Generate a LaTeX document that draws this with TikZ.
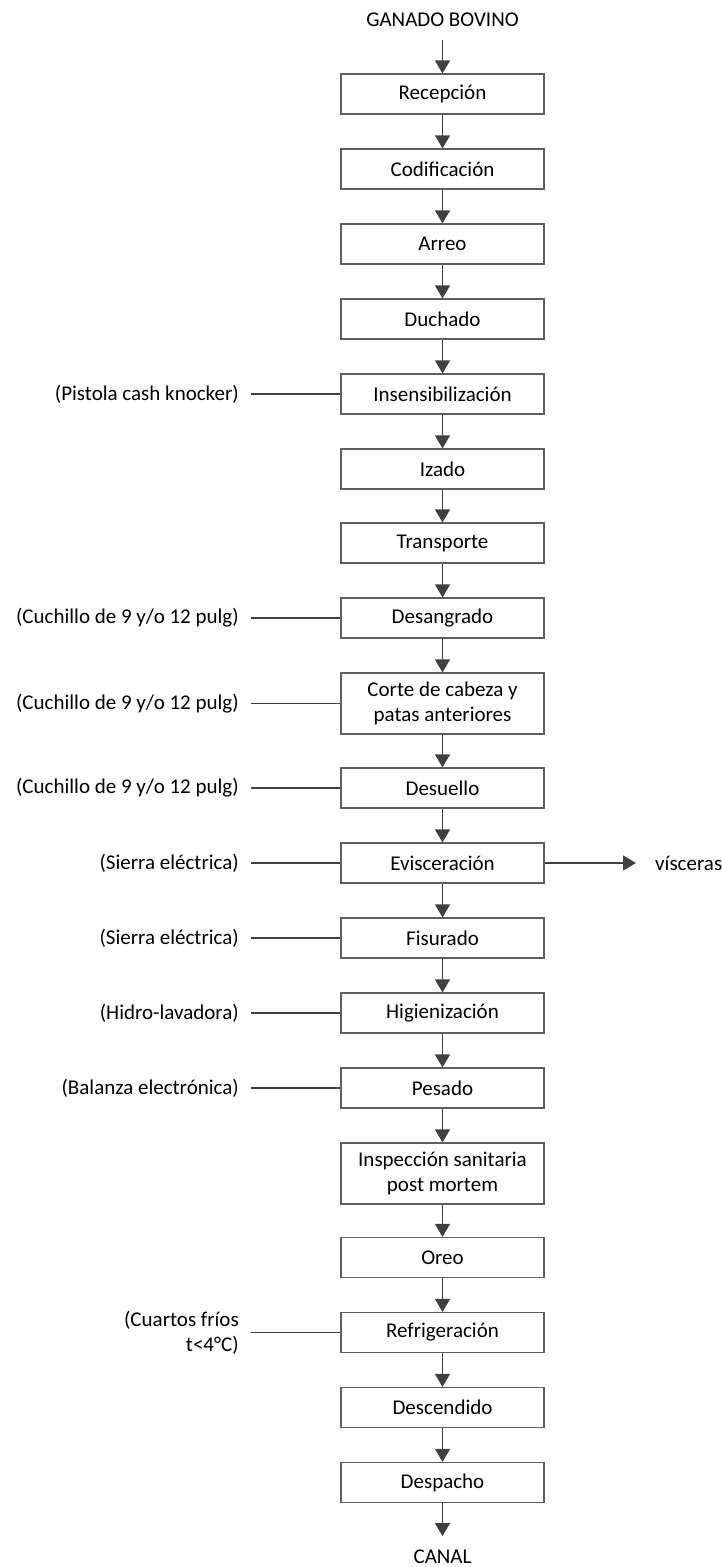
\documentclass[tikz,border=0pt]{standalone}
\usepackage{fontspec}
\setmainfont{Carlito}
\usetikzlibrary{arrows.meta}
\definecolor{linegray}{HTML}{404040}
\definecolor{boxgray}{HTML}{5E5E5E}
\begin{document}
\begin{tikzpicture}[x=1pt,y=-1pt,
  font=\fontsize{21}{25}\selectfont,
  stepbox/.style={draw=boxgray, line width=1.2pt, minimum width=203pt, minimum height=40pt, inner sep=0pt, align=center},
  tallbox/.style={stepbox, minimum height=61pt},
  flow/.style={draw=linegray, line width=1.3pt, -{Triangle[width=15pt,length=13pt]}},
  feed/.style={draw=linegray, line width=1.1pt},
  lab/.style={anchor=east, inner xsep=12pt, inner ysep=0pt, align=right},
  term/.style={inner xsep=0pt, inner ysep=13pt, text height=13.5pt, text depth=0pt}]
\useasboundingbox (0,0) rectangle (722,1567);

\node[term] (gb) at (442.5,20) {GANADO BOVINO};
\node[stepbox] (n1) at (442.5,94) {Recepción};
\node[stepbox] (n2) at (442.5,169) {Codificación};
\node[stepbox] (n3) at (442.5,244) {Arreo};
\node[stepbox] (n4) at (442.5,319) {Duchado};
\node[stepbox] (n5) at (442.5,394) {Insensibilización};
\node[stepbox] (n6) at (442.5,469) {Izado};
\node[stepbox] (n7) at (442.5,543) {Transporte};
\node[stepbox] (n8) at (442.5,618) {Desangrado};
\node[tallbox] (n9) at (442.5,703.5) {Corte de cabeza y\\patas anteriores};
\node[stepbox] (n10) at (442.5,788) {Desuello};
\node[stepbox] (n11) at (442.5,863) {Evisceración};
\node[stepbox] (n12) at (442.5,938) {Fisurado};
\node[stepbox] (n13) at (442.5,1013) {Higienización};
\node[stepbox] (n14) at (442.5,1088) {Pesado};
\node[tallbox] (n15) at (442.5,1173.5) {Inspección sanitaria\\post mortem};
\node[stepbox] (n16) at (442.5,1257.5) {Oreo};
\node[stepbox] (n17) at (442.5,1332.5) {Refrigeración};
\node[stepbox] (n18) at (442.5,1407.5) {Descendido};
\node[stepbox] (n19) at (442.5,1482.5) {Despacho};
\node[term, inner ysep=14pt] (canal) at (442.5,1557) {CANAL};

\draw[flow] (gb) -- (n1);
\foreach \a/\b in {n1/n2,n2/n3,n3/n4,n4/n5,n5/n6,n6/n7,n7/n8,n8/n9,n9/n10,n10/n11,n11/n12,n12/n13,n13/n14,n14/n15,n15/n16,n16/n17,n17/n18,n18/n19}
  \draw[flow] (\a) -- (\b);
\draw[flow] (n19) -- (canal);

\node[lab] (l5) at (251,394) {(Pistola cash knocker)};
\node[lab] (l8) at (251,618) {(Cuchillo de 9 y/o 12 pulg)};
\node[lab] (l9) at (251,703.5) {(Cuchillo de 9 y/o 12 pulg)};
\node[lab] (l10) at (251,788) {(Cuchillo de 9 y/o 12 pulg)};
\node[lab] (l11) at (251,863) {(Sierra eléctrica)};
\node[lab] (l12) at (251,938) {(Sierra eléctrica)};
\node[lab] (l13) at (251,1013) {(Hidro-lavadora)};
\node[lab] (l14) at (251,1088) {(Balanza electrónica)};
\node[lab] (l17) at (251,1332.5) {(Cuartos fríos\\t<4°C)};

\foreach \a/\b in {l5/n5,l8/n8,l9/n9,l10/n10,l11/n11,l12/n12,l13/n13,l14/n14,l17/n17}
  \draw[feed] (\a.east) -- (\b.west);

\node[anchor=west, inner xsep=19pt, inner ysep=0pt] (visc) at (636,863) {vísceras};
\draw[flow] (n11.east) -- (visc.west);
\end{tikzpicture}
\end{document}
